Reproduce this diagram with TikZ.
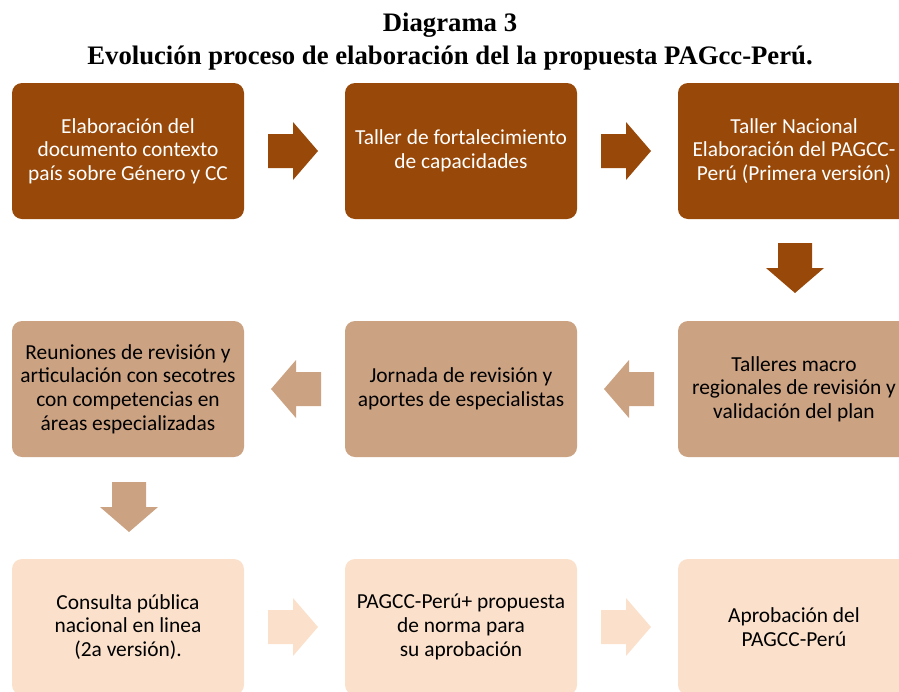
\documentclass[tikz,border=0pt]{standalone}
\usepackage{fontspec}
\setmainfont{Carlito}
\newfontfamily\titlefont{Liberation Serif}
\definecolor{cdark}{HTML}{984808}
\definecolor{cmid}{HTML}{CBA282}
\definecolor{clight}{HTML}{FBE1CB}
\tikzset{
  box/.style={rounded corners=10pt, minimum width=232pt, minimum height=136pt, inner sep=0pt,
    align=center, font=\fontsize{21.4}{23.6}\selectfont},
  darkbox/.style={box, fill=cdark, text=white},
  midbox/.style={box, fill=cmid, text=black},
  lightbox/.style={box, fill=clight, text=black},
  titletext/.style={font=\titlefont\bfseries\fontsize{26.7}{33}\selectfont, anchor=base, inner sep=0pt},
  pics/blockarrow/.style={code={
    \fill[#1] (0,-17) -- (25,-17) -- (25,-29) -- (50,0) -- (25,29) -- (25,17) -- (0,17) -- cycle;
  }}
}
\begin{document}
\begin{tikzpicture}[x=1pt,y=-1pt]
\useasboundingbox (0,0) rectangle (899,691);
\clip (0,0) rectangle (899,691);
\node[titletext] (title1) at (450,31) {Diagrama 3};
\node[titletext] (title2) at (450,64) {Evolución proceso de elaboración del la propuesta PAGcc-Perú.};
% row 1
\node[darkbox] (b1) at (128,151) {Elaboración del\\documento contexto\\país sobre Género y CC};
\node[darkbox] (b2) at (461,151) {Taller de fortalecimiento\\de capacidades};
\node[darkbox] (b3) at (794,151) {Taller Nacional\\Elaboración del PAGCC-\\Perú (Primera versión)};
% row 2
\node[midbox] (b4) at (128,389) {Reuniones de revisión y\\articulación con secotres\\con competencias en\\áreas especializadas};
\node[midbox] (b5) at (461,389) {Jornada de revisión y\\aportes de especialistas};
\node[midbox] (b6) at (794,389) {Talleres macro\\regionales de revisión y\\validación del plan};
% row 3
\node[lightbox] (b7) at (128,627) {Consulta pública\\nacional en linea\\(2a versión).};
\node[lightbox] (b8) at (461,627) {PAGCC-Perú+ propuesta\\de norma para\\su aprobación};
\node[lightbox] (b9) at (794,627) {Aprobación del\\PAGCC-Perú};
% arrows
\pic at (268,151) {blockarrow=cdark};
\pic at (601,151) {blockarrow=cdark};
\pic[rotate=-90] at (795,243) {blockarrow=cdark};
\pic[rotate=180] at (321,389) {blockarrow=cmid};
\pic[rotate=180] at (654,389) {blockarrow=cmid};
\pic[rotate=-90] at (129,482) {blockarrow=cmid};
\pic at (268,627) {blockarrow=clight};
\pic at (601,627) {blockarrow=clight};
\end{tikzpicture}
\end{document}
